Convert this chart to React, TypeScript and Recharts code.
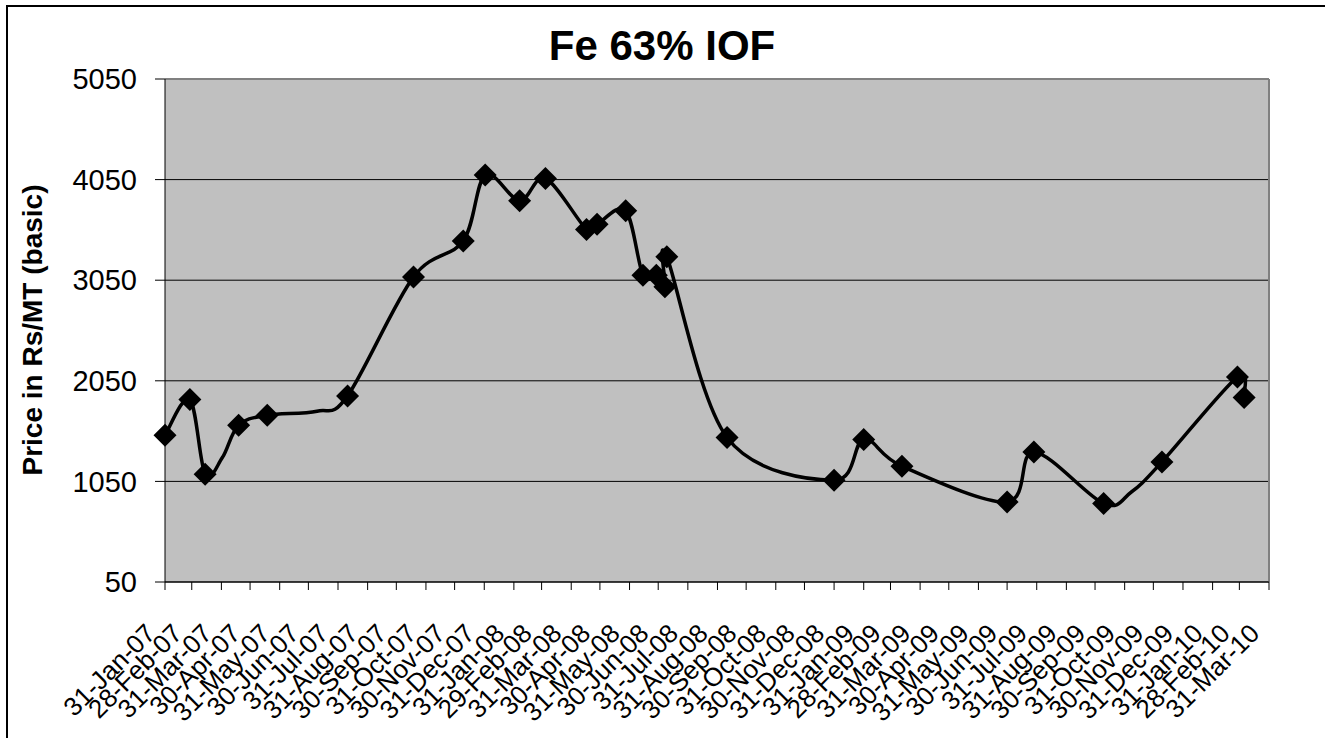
import { LineChart, Line, XAxis, YAxis, CartesianGrid, ReferenceLine } from "recharts";

// observation dates (ISO) and price in Rs/MT; unmarked rows only shape the line
const dates = [
  "2007-01-31", "2007-02-26", "2007-03-14", "2007-04-01", "2007-04-18", "2007-05-18",
  "2007-07-09", "2007-08-10", "2007-10-18", "2007-12-09", "2008-01-01", "2008-02-06",
  "2008-03-04", "2008-04-16", "2008-04-27", "2008-05-27", "2008-06-14", "2008-06-28",
  "2008-07-07", "2008-07-09", "2008-09-10", "2008-12-31", "2009-01-31",
  "2009-03-12", "2009-06-30", "2009-07-28", "2009-10-09", "2009-11-07", "2009-12-09",
  "2010-02-26", "2010-03-05",
];
const prices = [
  1509, 1864, 1121, 1287, 1609, 1708,
  1748, 1900, 3083, 3439, 4095, 3840,
  4062, 3555, 3605, 3740, 3100, 3100,
  2984, 3283, 1486, 1061, 1466,
  1201, 846, 1343, 830, 945, 1244,
  2089, 1884,
];
const marked = [
  true, true, true, false, true, true,
  false, true, true, true, true, true,
  true, true, true, true, true, true,
  true, true, true, true, true,
  true, true, true, true, false, true,
  true, true,
];

const xTickLabels = [
  "31-Jan-07", "28-Feb-07", "31-Mar-07", "30-Apr-07", "31-May-07", "30-Jun-07",
  "31-Jul-07", "31-Aug-07", "30-Sep-07", "31-Oct-07", "30-Nov-07", "31-Dec-07",
  "31-Jan-08", "29-Feb-08", "31-Mar-08", "30-Apr-08", "31-May-08", "30-Jun-08",
  "31-Jul-08", "31-Aug-08", "30-Sep-08", "31-Oct-08", "30-Nov-08", "31-Dec-08",
  "31-Jan-09", "28-Feb-09", "31-Mar-09", "30-Apr-09", "31-May-09", "30-Jun-09",
  "31-Jul-09", "31-Aug-09", "30-Sep-09", "31-Oct-09", "30-Nov-09", "31-Dec-09",
  "31-Jan-10", "28-Feb-10", "31-Mar-10",
];
const yTicks = [50, 1050, 2050, 3050, 4050, 5050];

const MONTHS = ["Jan", "Feb", "Mar", "Apr", "May", "Jun", "Jul", "Aug", "Sep", "Oct", "Nov", "Dec"];
const FONT = "'Liberation Sans', Arial, sans-serif";

const parseLabel = (s: string) => {
  const [d, m, y] = s.split("-");
  return Date.UTC(2000 + Number(y), MONTHS.indexOf(m), Number(d));
};
const xTicks = xTickLabels.map(parseLabel);
const labelFor = new Map(xTicks.map((t, i) => [t, xTickLabels[i]]));

const rows = dates.map((d, i) => ({
  t: Date.parse(d + "T00:00:00Z"),
  price: prices[i],
  marked: marked[i],
}));

// Excel-like smoothing: bezier segments with control points at 1/6 of neighbour deltas
const excelSmooth = (context: any) => {
  let pts: number[][] = [];
  return {
    areaStart() {},
    areaEnd() {},
    lineStart() {
      pts = [];
    },
    lineEnd() {
      if (!pts.length) return;
      context.moveTo(pts[0][0], pts[0][1]);
      for (let i = 0; i < pts.length - 1; i++) {
        const p0 = pts[i - 1] || pts[i];
        const p1 = pts[i];
        const p2 = pts[i + 1];
        const p3 = pts[i + 2] || p2;
        context.bezierCurveTo(
          p1[0] + (p2[0] - p0[0]) / 6, p1[1] + (p2[1] - p0[1]) / 6,
          p2[0] - (p3[0] - p1[0]) / 6, p2[1] - (p3[1] - p1[1]) / 6,
          p2[0], p2[1]
        );
      }
    },
    point(x: number, y: number) {
      pts.push([+x, +y]);
    },
  };
};

const Diamond = (props: any) => {
  const { cx, cy, payload } = props;
  if (!payload || !payload.marked) return <g />;
  const r = 11.5;
  return <path d={`M${cx},${cy - r}L${cx + r},${cy}L${cx},${cy + r}L${cx - r},${cy}Z`} fill="#000" />;
};

const XTick = (props: any) => {
  const { x, y, payload } = props;
  const ax = x - 8;
  const ay = y + 12;
  return (
    <text x={ax} y={ay} transform={`rotate(-45 ${ax} ${ay})`} textAnchor="end"
      fontSize={26} fontFamily={FONT} fill="#000">
      {labelFor.get(payload.value)}
    </text>
  );
};

export default function App() {
  return (
    <div style={{ position: "absolute", left: 0, top: 0, width: 1325, height: 738, overflow: "hidden", background: "#fff" }}>
      <div style={{ position: "absolute", left: 6, top: 5, width: 1400, height: 800, borderTop: "2px solid #000", borderLeft: "2px solid #000" }} />
      <div style={{ position: "absolute", left: 0, top: 0 }}>
        <LineChart width={1325} height={738} data={rows} margin={{ top: 79, right: 56, left: 0, bottom: 0 }}>
          <CartesianGrid vertical={false} stroke="#000" fill="#C0C0C0" fillOpacity={1} />
          <XAxis
            dataKey="t"
            type="number"
            domain={[xTicks[0], xTicks[xTicks.length - 1]]}
            ticks={xTicks}
            interval={0}
            height={156}
            tickSize={8}
            tickMargin={33}
            stroke="#000"
            tick={<XTick />}
          />
          <YAxis
            type="number"
            domain={[50, 5050]}
            ticks={yTicks}
            interval={0}
            width={165}
            tickSize={10}
            tickMargin={18}
            stroke="#000"
            tick={{ fill: "#000", fontSize: 29, fontFamily: FONT }}
          />
          <ReferenceLine y={5050} stroke="#808080" strokeWidth={2} />
          <ReferenceLine x={xTicks[xTicks.length - 1]} stroke="#808080" strokeWidth={2} />
          <Line
            dataKey="price"
            type={excelSmooth as any}
            stroke="#000"
            strokeWidth={3.5}
            dot={Diamond}
            activeDot={false}
            isAnimationActive={false}
          />
        </LineChart>
      </div>
      <svg width={1325} height={738} style={{ position: "absolute", left: 0, top: 0, pointerEvents: "none" }}>
        <text x={662} y={60} textAnchor="middle" fontSize={42} fontWeight="bold" fontFamily={FONT} fill="#000">
          Fe 63% IOF
        </text>
        <text transform="translate(42,330) rotate(-90)" textAnchor="middle" fontSize={28} fontWeight="bold" fontFamily={FONT} fill="#000">
          Price in Rs/MT (basic)
        </text>
      </svg>
    </div>
  );
}
